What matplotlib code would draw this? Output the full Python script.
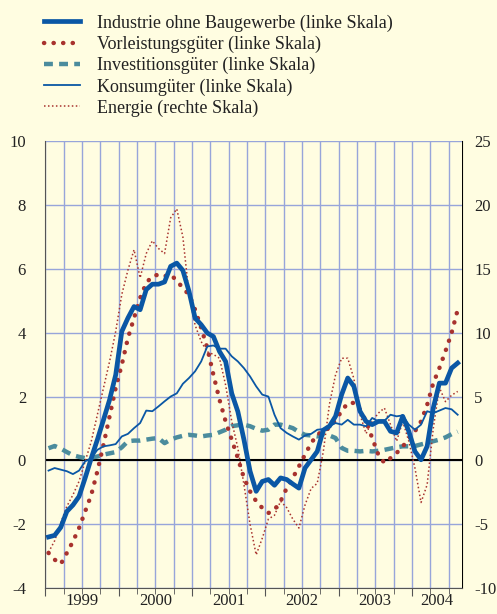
import numpy as np
import pandas as pd
import matplotlib
matplotlib.use("Agg")
import matplotlib.pyplot as plt
from matplotlib.transforms import blended_transform_factory

plt.rcParams['font.family'] = ['Liberation Serif', 'DejaVu Serif']
plt.rcParams['axes.unicode_minus'] = False

# monthly data, Jan 1999 - Aug 2004
months = pd.date_range("1999-01-01", "2004-08-01", freq="MS")

industrie = [-2.4, -2.35, -2.1, -1.6, -1.4, -1.13, -0.55, 0.07, 0.65, 1.27, 1.9, 2.68,
             4.04, 4.46, 4.82, 4.72, 5.35, 5.52, 5.52, 5.59, 6.08, 6.18, 5.95, 5.3,
             4.46, 4.25, 3.99, 3.88, 3.41, 3.1, 2.1, 1.53, 0.65, -0.34, -0.97, -0.66,
             -0.6, -0.78, -0.55, -0.6, -0.74, -0.87, -0.24, 0.02, 0.28, 0.95, 1.07, 1.38,
             2.06, 2.58, 2.32, 1.54, 1.22, 1.12, 1.22, 1.22, 0.91, 0.86, 1.38, 0.91,
             0.28, 0.02, 0.44, 1.64, 2.42, 2.42, 2.89, 3.05]

vorleistung = [-2.9, -3.11, -3.25, -2.9, -2.54, -2.12, -1.6, -1.08, -0.34, 0.49, 1.38, 2.27,
               3.0, 3.83, 4.46, 5.09, 5.56, 5.77, 5.82, 5.77, 5.82, 5.63, 5.4, 5.19,
               4.72, 4.15, 3.52, 2.68, 1.9, 1.22, 0.65, 0.07, -0.55, -0.97, -1.28, -1.49,
               -1.65, -1.55, -1.28, -0.87, -0.55, -0.19, 0.18, 0.54, 0.8, 0.93, 1.01, 1.27,
               1.54, 1.8, 1.8, 1.59, 1.22, 0.7, 0.18, -0.08, 0.07, 0.23, 0.44, 0.65,
               0.91, 1.22, 1.74, 2.42, 2.89, 3.42, 3.99, 4.72]

investition = [0.38, 0.45, 0.37, 0.26, 0.16, 0.11, 0.07, 0.09, 0.12, 0.18, 0.22, 0.26,
               0.41, 0.6, 0.62, 0.62, 0.65, 0.68, 0.7, 0.54, 0.65, 0.72, 0.77, 0.8,
               0.78, 0.75, 0.78, 0.8, 0.88, 0.96, 1.07, 1.1, 1.12, 1.07, 0.99, 0.93,
               0.96, 1.12, 1.12, 1.07, 1.01, 0.89, 0.8, 0.78, 0.75, 0.83, 0.78, 0.7,
               0.39, 0.3, 0.3, 0.28, 0.3, 0.28, 0.3, 0.33, 0.37, 0.41, 0.44, 0.44,
               0.45, 0.5, 0.55, 0.6, 0.65, 0.72, 0.82, 0.9]

konsum = [-0.32, -0.24, -0.29, -0.34, -0.43, -0.32, -0.03, 0.07, 0.33, 0.44, 0.47, 0.51,
          0.75, 0.83, 1.01, 1.17, 1.56, 1.54, 1.69, 1.85, 2.0, 2.1, 2.4, 2.58,
          2.79, 3.1, 3.57, 3.6, 3.5, 3.5, 3.26, 3.1, 2.89, 2.63, 2.32, 2.06,
          2.0, 1.43, 1.01, 0.86, 0.75, 0.65, 0.78, 0.83, 0.96, 0.98, 1.07, 1.17,
          1.12, 1.27, 1.12, 1.12, 1.07, 1.33, 1.22, 1.24, 1.43, 1.38, 1.41, 1.12,
          0.96, 1.12, 1.54, 1.48, 1.56, 1.64, 1.6, 1.43]

energie = [-7.2, -6.3, -4.9, -3.6, -2.7, -1.64, -0.08, 1.49, 3.58, 5.67, 7.75, 10.1,
           13.0, 14.9, 16.5, 14.3, 16.2, 17.2, 16.6, 16.2, 19.0, 19.7, 17.5, 13.0,
           10.6, 9.3, 8.5, 8.3, 8.0, 5.9, 3.05, 0.97, -1.9, -5.0, -7.4, -6.1,
           -4.6, -4.3, -3.2, -3.7, -4.6, -5.3, -3.5, -2.2, -1.8, 0.7, 4.4, 6.7,
           8.0, 8.0, 6.4, 3.6, 2.1, 3.05, 3.7, 4.1, 2.8, 1.5, 3.05, 1.5,
           -0.6, -3.3, -1.9, 2.5, 5.7, 4.6, 5.1, 5.4]

labels = ["Industrie ohne Baugewerbe (linke Skala)",
          "Vorleistungsgüter (linke Skala)",
          "Investitionsgüter (linke Skala)",
          "Konsumgüter (linke Skala)",
          "Energie (rechte Skala)"]
years = [1999, 2000, 2001, 2002, 2003, 2004]

x = months.year + (months.month - 0.5) / 12

bg = "#fffde1"
blue = "#0a57a5"
red = "#a8322e"
teal = "#4b8c9d"
gridc = "#97a5da"

fig = plt.figure(figsize=(4.97, 6.14), dpi=100, facecolor=bg)
ax = fig.add_axes([0.0915, 0.0423, 0.8375, 0.7277])
ax.set_facecolor(bg)
ax2 = ax.twinx()

ax.set_xlim(1999, 2004.68)
ax.set_ylim(-4, 10)
ax2.set_ylim(-10, 25)
ax.set_yticks(np.arange(-4, 11, 2))
ax2.set_yticks(np.arange(-10, 26, 5))

ax.set_xticks(years)
ax.set_xticks(np.arange(1999, 2004.7, 0.25), minor=True)
ax.set_xticklabels([])
ax.grid(True, which="both", axis="x", color=gridc, lw=1)
ax.grid(True, which="major", axis="y", color=gridc, lw=1)
ax.set_axisbelow(True)
ax.axhline(0, color="black", lw=1.5, zorder=2)

l_ind, = ax.plot(x, industrie, color=blue, lw=3.4, zorder=6)
l_vor, = ax.plot(x, vorleistung, color=red, lw=3.2, linestyle=(0, (0.05, 2.1)),
                 dash_capstyle="round", zorder=4)
l_inv, = ax.plot(x, investition, color=teal, lw=3.2, linestyle=(0, (2.0, 1.4)), zorder=3)
l_kon, = ax.plot(x, konsum, color=blue, lw=1.3, zorder=5)
# energy is on the right scale (2.5 x left); drawn on the left axes so it stays above the grid
l_en, = ax.plot(x, np.array(energie) / 2.5, color=red, lw=1.1,
                linestyle=(0, (1, 1.6)), zorder=3)

ax.set_zorder(ax2.get_zorder() + 1)
ax2.patch.set_visible(False)

for a in (ax, ax2):
    a.spines["top"].set_visible(False)
ax.spines["left"].set_color("#555555")
ax.spines["bottom"].set_color("#555555")
ax.spines["right"].set_visible(False)
ax2.spines["left"].set_visible(False)
ax2.spines["bottom"].set_visible(False)
ax2.spines["right"].set_color("black")

ax.tick_params(axis="y", length=0, labelsize=12, pad=14, colors="#222222")
ax2.tick_params(axis="y", length=0, labelsize=12, pad=9, colors="#222222")
ax.tick_params(axis="x", which="major", length=6, color="#555555", direction="out")
ax.tick_params(axis="x", which="minor", length=4, color="#555555", direction="out")

trans = blended_transform_factory(ax.transData, ax.transAxes)
for yr in years:
    mid = (yr + 2004.68) / 2 if yr == 2004 else yr + 0.5
    ax.text(mid, -0.011, str(yr), transform=trans, ha="center", va="top",
            fontsize=12, color="#222222")

fig.legend([l_ind, l_vor, l_inv, l_kon, l_en], labels, loc="upper left",
           bbox_to_anchor=(0.055, 1.003), frameon=False, fontsize=13,
           handlelength=2.0, handletextpad=0.95, labelspacing=0.22,
           labelcolor="#222222")

fig.savefig("out.png", dpi=100, facecolor=bg)
